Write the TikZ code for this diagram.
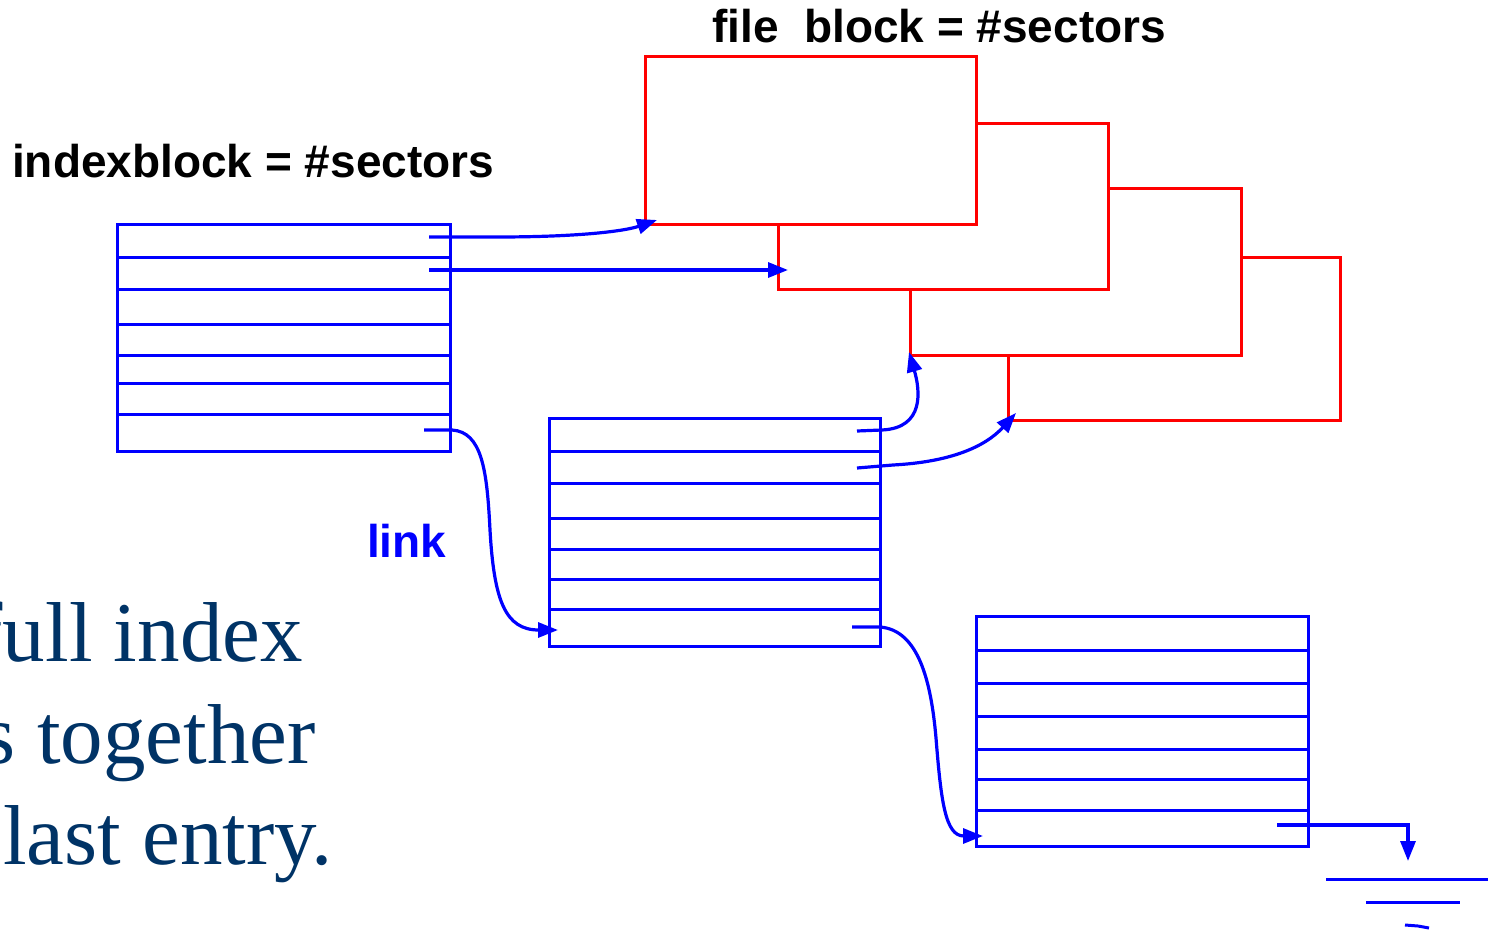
\documentclass[tikz,border=0pt]{standalone}
\usepackage{fontspec}
\setmainfont{Liberation Serif}
\newfontfamily\helv{Liberation Sans}
\usetikzlibrary{arrows.meta}
\definecolor{linkblue}{RGB}{0,0,255}
\definecolor{fileblockred}{RGB}{255,0,0}
\definecolor{navytext}{RGB}{0,51,102}
\tikzset{
  tbl/.style={draw=linkblue, line width=3pt, rectangle, inner sep=0pt, outer sep=0pt, anchor=north west},
  rowline/.style={draw=linkblue, line width=3pt},
  fblk/.style={draw=fileblockred, line width=3pt, fill=white, rectangle, inner sep=0pt, outer sep=0pt, anchor=north west},
  ptr/.style={draw=linkblue, line width=3.2pt, -{Triangle[length=20pt,width=15pt]}},
  gnd/.style={draw=linkblue, line width=3pt},
  lbl/.style={font=\helv\bfseries\fontsize{46}{50}\selectfont, inner sep=0pt, anchor=base west},
  prose/.style={font=\fontsize{85}{100}\selectfont, text=navytext, inner sep=0pt, anchor=base east},
}
\begin{document}
\begin{tikzpicture}[x=1pt,y=-1pt]
\useasboundingbox (0,0) rectangle (1492,931);
\clip (0,0) rectangle (1492,931);

% stacked file blocks, back to front
\node[fblk, minimum width=332pt, minimum height=163pt] (fd) at (1008,257) {};
\node[fblk, minimum width=331pt, minimum height=166pt] (fc) at (910,189) {};
\node[fblk, minimum width=330pt, minimum height=165pt] (fb) at (778,124) {};
\node[fblk, minimum width=331pt, minimum height=167pt] (fa) at (645,57) {};

% index blocks with their entry rows
\node[tbl, minimum width=333pt, minimum height=227pt] (idx1) at (117,224) {};
\foreach \y in {257,289,324,355,383,414}
  \draw[rowline] (idx1.west |- 0,\y) -- (idx1.east |- 0,\y);

\node[tbl, minimum width=331pt, minimum height=228pt] (idx2) at (549,418) {};
\foreach \y in {451,483,518,549,579,609}
  \draw[rowline] (idx2.west |- 0,\y) -- (idx2.east |- 0,\y);

\node[tbl, minimum width=332pt, minimum height=230pt] (idx3) at (976,616) {};
\foreach \y in {650,683,716,749,779,810}
  \draw[rowline] (idx3.west |- 0,\y) -- (idx3.east |- 0,\y);

% labels
\node[lbl] (ixlbl) at (12,178) {indexblock = \#sectors};
\node[lbl] (fblbl) at (712,43) {file\ \ block = \#sectors};
\node[lbl, text=linkblue] (lnk) at (367,557) {link};

% running text
\node[prose] (p1) at (303,661) {full index};
\node[prose] (p2) at (316,763) {s together};
\node[prose] (p3) at (333,864) {last entry.};

% pointer end points
\coordinate (s1) at (429,237);  \coordinate (e1) at (657,220);
\coordinate (s2) at (429,270);  \coordinate (e2) at (788,270);
\coordinate (s3) at (857,431);  \coordinate (e3) at (909,352);
\coordinate (s4) at (857,468);  \coordinate (e4) at (1016,413);
\coordinate (s5) at (424,430);  \coordinate (e5) at (558,630);
\coordinate (s6) at (852,627);  \coordinate (e6) at (983,836);
\coordinate (s7) at (1277,825); \coordinate (e7) at (1408,861);

% data pointers
\draw[ptr] (s1) -- ++(68,0) .. controls (580,237) and (625,231) .. (e1);
\draw[ptr] (s2) -- (e2);
\draw[ptr] (s3) -- ++(25,-1) .. controls (925,428) and (920,390) .. (e3);
\draw[ptr] (s4) -- ++(36,-3) .. controls (950,462) and (985,447) .. (e4);

% links between index blocks
\draw[ptr] (s5) -- ++(28,0) .. controls (482,432) and (487,470) .. (490,530)
  .. controls (494,600) and (505,630) .. (e5);
\draw[ptr] (s6) -- ++(28,0) .. controls (918,630) and (931,680) .. (936,738)
  .. controls (941,800) and (945,836) .. (e6);
\draw[ptr] (s7) -| (e7);

% end-of-chain ground
\coordinate (g1) at (1326,879); \coordinate (g2) at (1488,879);
\coordinate (g3) at (1366,902); \coordinate (g4) at (1460,902);
\coordinate (g5) at (1405,925); \coordinate (g6) at (1429,928);
\draw[gnd] (g1) -- (g2);
\draw[gnd] (g3) -- (g4);
\draw[gnd] (g5) -- (1418,926) -- (g6);
\end{tikzpicture}
\end{document}
